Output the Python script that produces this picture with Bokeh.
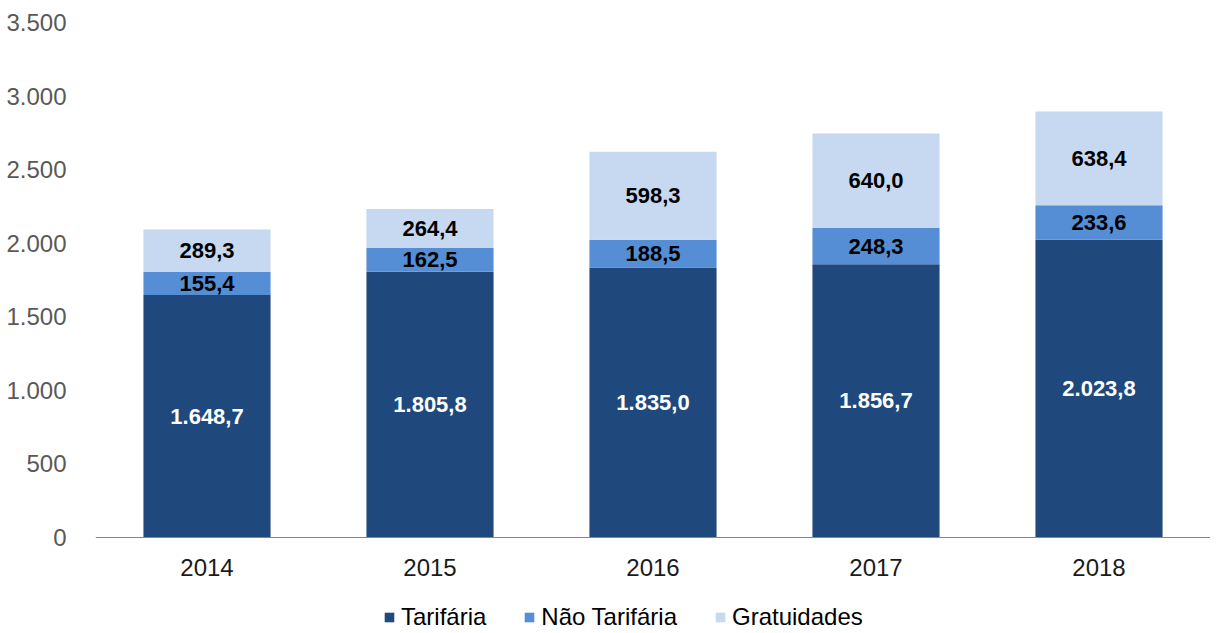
from bokeh.plotting import figure
from bokeh.models import ColumnDataSource, FixedTicker, Legend, LegendItem, Range1d, Span
from bokeh.core.properties import value
from bokeh.embed import file_html
from bokeh.resources import INLINE

years = ["2014", "2015", "2016", "2017", "2018"]
tarifaria = [1648.7, 1805.8, 1835.0, 1856.7, 2023.8]
nao_tarifaria = [155.4, 162.5, 188.5, 248.3, 233.6]
gratuidades = [289.3, 264.4, 598.3, 640.0, 638.4]
series_names = ["Tarifária", "Não Tarifária", "Gratuidades"]
colors = ["#1F497D", "#558ED5", "#C6D9F1"]
y_ticks = [0, 500, 1000, 1500, 2000, 2500, 3000, 3500]
y_tick_labels = ["0", "500", "1.000", "1.500", "2.000", "2.500", "3.000", "3.500"]

FONT = "Liberation Sans"


def fmt(v):
    s = f"{v:,.1f}"
    return s.replace(",", "X").replace(".", ",").replace("X", ".")


src = ColumnDataSource(dict(year=years, t=tarifaria, n=nao_tarifaria, g=gratuidades))

# frame extends below zero to hold the year labels and the legend
p = figure(x_range=years, y_range=Range1d(-652.4, 3500),
           frame_width=1115, frame_height=611,
           output_backend="svg", toolbar_location=None, x_axis_location=None,
           min_border_left=95, min_border_right=0, min_border_top=22, min_border_bottom=0)
p.outline_line_color = None
p.xgrid.grid_line_color = None
p.ygrid.grid_line_color = None
p.x_range.range_padding = 0

renderers = p.vbar_stack(["t", "n", "g"], x="year", width=0.57, color=colors,
                         line_color=None, source=src)

# zero baseline
p.add_layout(Span(location=0, dimension="width", line_color="#868686", line_width=1))

# category labels
ysrc = ColumnDataSource(dict(x=years, y=[0] * len(years), text=years))
p.text(x="x", y="y", text="text", source=ysrc, y_offset=30,
       text_align="center", text_baseline="middle", text_font=value(FONT),
       text_font_size="24px", text_color="#1a1a1a")

# value labels
lx, ly, lt, lc = [], [], [], []
for i, y in enumerate(years):
    base = 0.0
    for vals, col in ((tarifaria, "white"), (nao_tarifaria, "black"), (gratuidades, "black")):
        v = vals[i]
        lx.append(y)
        ly.append(base + v / 2)
        lt.append(fmt(v))
        lc.append(col)
        base += v
lsrc = ColumnDataSource(dict(x=lx, y=ly, text=lt, color=lc))
p.text(x="x", y="y", text="text", text_color="color", source=lsrc,
       text_align="center", text_baseline="middle", text_font=value(FONT),
       text_font_size="22px", text_font_style="bold")

p.yaxis.ticker = FixedTicker(ticks=y_ticks)
p.yaxis.major_label_overrides = {t: l for t, l in zip(y_ticks, y_tick_labels)}
p.yaxis.axis_line_color = None
p.yaxis.major_tick_line_color = None
p.yaxis.minor_tick_line_color = None
p.yaxis.major_label_standoff = 23
p.yaxis.major_label_text_font = FONT
p.yaxis.major_label_text_font_size = "24px"
p.yaxis.major_label_text_color = "#595959"

legend = Legend(items=[LegendItem(label=n, renderers=[r]) for n, r in zip(series_names, renderers)],
                orientation="horizontal", location=(288, 2))
legend.label_text_font = FONT
legend.label_text_font_size = "24px"
legend.label_text_color = "#000000"
legend.glyph_width = 12
legend.glyph_height = 12
legend.label_standoff = 6
legend.spacing = 37
legend.border_line_color = None
legend.background_fill_alpha = 0
legend.padding = 0
legend.margin = 0
p.add_layout(legend)

open("out.html", "w").write(file_html(p, INLINE))
